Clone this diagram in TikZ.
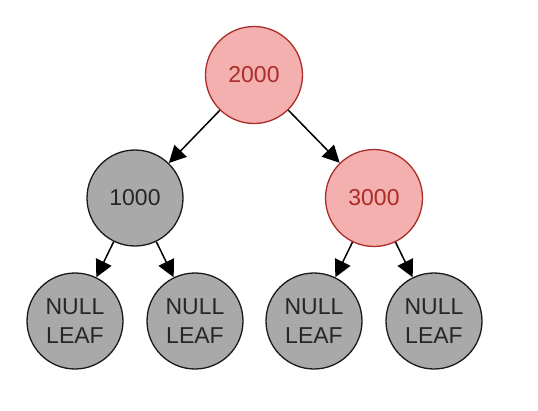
\documentclass[tikz,border=0pt]{standalone}
\usepackage{fontspec}
\setmainfont{Liberation Sans}
\usepackage{xcolor}
\usepackage{tikz}
\usetikzlibrary{arrows.meta}
\definecolor{nodepink}{RGB}{244, 175, 175}
\definecolor{nodered}{RGB}{170, 45, 42}
\definecolor{nodegray}{RGB}{169, 169, 169}

\tikzset{
	rednode/.style = {circle, draw = nodered, fill = nodepink, text = nodered, line width = 1.3pt, minimum size = 97pt, inner sep = 0pt, font = \fontsize{23}{30}\selectfont},
	blacknode/.style = {circle, draw = black!90, fill = nodegray, text = black!85, line width = 1.3pt, minimum size = 96pt, inner sep = 0pt, align = center, font = \fontsize{23}{29}\selectfont},
	arr/.style = {line width = 1.5pt, -{Triangle[length = 17pt, width = 17pt]}}
}

\begin{document}
\begin{tikzpicture}[x = 1pt, y = -1pt]
	\useasboundingbox (0,0) rectangle (538,410);
	\node (root) at (254,75) [rednode] {2000};
	\node (left) at (135,198) [blacknode] {1000};
	\node (right) at (374,198) [rednode] {3000};
	\node (leafa) at (75,321) [blacknode] {NULL\\LEAF};
	\node (leafb) at (195,321) [blacknode] {NULL\\LEAF};
	\node (leafc) at (314,321) [blacknode] {NULL\\LEAF};
	\node (leafd) at (434,321) [blacknode] {NULL\\LEAF};
	\draw[arr] (root) -- (left);
	\draw[arr] (root) -- (right);
	\draw[arr] (left) -- (leafa);
	\draw[arr] (left) -- (leafb);
	\draw[arr] (right) -- (leafc);
	\draw[arr] (right) -- (leafd);
\end{tikzpicture}
\end{document}
